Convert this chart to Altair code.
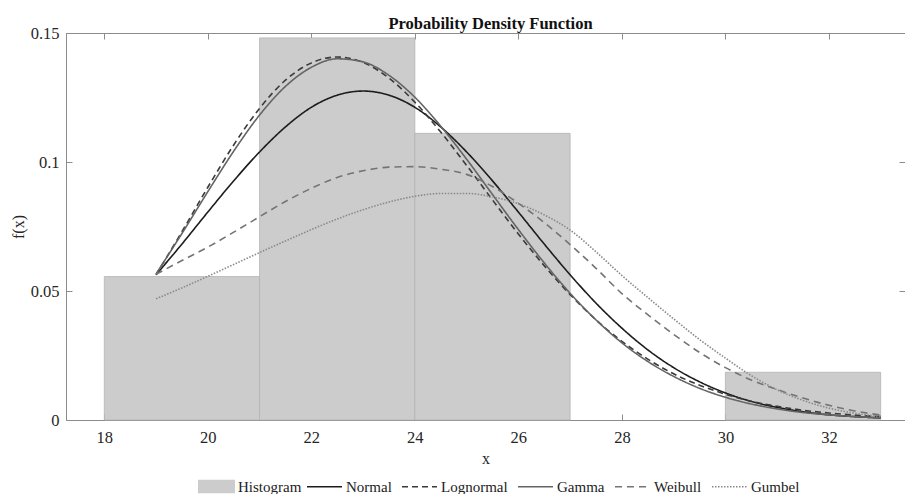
import altair as alt
import pandas as pd

# Histogram bins (density scale)
bin_start = [18, 21, 24, 27, 30]
bin_end = [21, 24, 27, 30, 33]
density = [0.0556, 0.1481, 0.1111, 0.0, 0.0185]

# Fitted curves
x_grid = [19, 19.5, 20, 20.5, 21, 21.5, 22, 22.5, 23, 23.5, 24, 24.5, 25, 25.5,
          26, 26.5, 27, 27.5, 28, 28.5, 29, 29.5, 30, 30.5, 31, 31.5, 32, 32.5, 33]
normal = [0.0563, 0.0682, 0.0806, 0.0927, 0.1039, 0.1136, 0.1212, 0.1259, 0.1275,
          0.1259, 0.1212, 0.1136, 0.1039, 0.0927, 0.0806, 0.0682, 0.0563, 0.0453,
          0.0356, 0.0272, 0.0203, 0.0148, 0.0105, 0.0072, 0.0049, 0.0032, 0.0020,
          0.0013, 0.0008]
lognormal = [0.0563, 0.0730, 0.0902, 0.1066, 0.1208, 0.1317, 0.1384, 0.1407, 0.1386,
             0.1325, 0.1232, 0.1116, 0.0987, 0.0853, 0.0721, 0.0598, 0.0486, 0.0388,
             0.0305, 0.0236, 0.0179, 0.0135, 0.0100, 0.0073, 0.0053, 0.0038, 0.0027,
             0.0019, 0.0013]
gamma = [0.0566, 0.0723, 0.0885, 0.1042, 0.1182, 0.1293, 0.1367, 0.1400, 0.1388,
         0.1336, 0.1251, 0.1139, 0.1011, 0.0874, 0.0738, 0.0609, 0.0491, 0.0388,
         0.0299, 0.0227, 0.0169, 0.0123, 0.0088, 0.0062, 0.0043, 0.0029, 0.0020,
         0.0013, 0.0008]
weibull = [0.0565, 0.0618, 0.0670, 0.0728, 0.0788, 0.0847, 0.0898, 0.0940, 0.0966,
           0.0980, 0.0982, 0.0972, 0.0952, 0.0905, 0.0840, 0.0765, 0.0680, 0.0588,
           0.0490, 0.0408, 0.0332, 0.0262, 0.0203, 0.0155, 0.0118, 0.0085, 0.0057,
           0.0035, 0.0019]
gumbel = [0.0470, 0.0512, 0.0557, 0.0603, 0.0649, 0.0694, 0.0738, 0.0779, 0.0815,
          0.0845, 0.0867, 0.0878, 0.0878, 0.0865, 0.0838, 0.0795, 0.0736, 0.0652,
          0.0560, 0.0475, 0.0392, 0.0312, 0.0240, 0.0172, 0.0117, 0.0076, 0.0046,
          0.0026, 0.0014]

curve_names = ["Normal", "Lognormal", "Gamma", "Weibull", "Gumbel"]
curve_colors = ["#1c1c1c", "#3a3a3a", "#646464", "#747474", "#8a8a8a"]
curve_dashes = [[1, 0], [6, 4], [1, 0], [7, 5], [1.5, 1.5]]
curve_widths = [1.6, 1.6, 1.6, 1.5, 1.2]
hist_color = "#cccccc"

x_ticks = [18, 20, 22, 24, 26, 28, 30, 32]
y_ticks = [0, 0.05, 0.1, 0.15]

hist_df = pd.DataFrame({"x0": bin_start, "x1": bin_end, "d": density,
                        "series": "Histogram"})
hist_df = hist_df[hist_df["d"] > 0]

curves = dict(zip(curve_names, [normal, lognormal, gamma, weibull, gumbel]))
rows = []
for name, vals in curves.items():
    for xv, yv in zip(x_grid, vals):
        rows.append({"x": xv, "y": yv, "series": name})
curve_df = pd.DataFrame(rows)

FONT = "Liberation Serif"
xscale = alt.Scale(domain=[17.26, 33.47], nice=False, zero=False)
yscale = alt.Scale(domain=[0, 0.15], nice=False, zero=False)

LEG_TOP = 435  # legend row top, relative to plot top

hist_legend = alt.Legend(
    title=None, orient="none", direction="horizontal",
    legendX=132, legendY=LEG_TOP, padding=0,
    labelFont=FONT, labelFontSize=15, labelColor="#222222", labelOffset=3,
    symbolType="M-1,-0.36H1V0.36H-1Z", symbolSize=1369,
    symbolStrokeWidth=0, symbolOpacity=1,
)
line_legend = alt.Legend(
    title=None, orient="none", direction="horizontal",
    legendX=240, legendY=LEG_TOP, padding=0,
    labelFont=FONT, labelFontSize=15, labelColor="#222222", labelOffset=3,
    columnPadding=6, symbolType="stroke", symbolSize=1225,
    symbolStrokeWidth=1.5, symbolOpacity=1,
)

bars = alt.Chart(hist_df).mark_rect(stroke="#b4b4b4", strokeWidth=0.8).encode(
    x=alt.X("x0:Q", scale=xscale,
            axis=alt.Axis(orient="bottom", values=x_ticks, title="x", offset=-6,
                          tickSize=6, domain=False, grid=False, labelPadding=9,
                          titlePadding=5)),
    x2="x1",
    y=alt.Y("d:Q", scale=yscale,
            axis=alt.Axis(orient="left", values=y_ticks, title="f(x)", offset=-6,
                          tickSize=6, domain=False, grid=False, labelPadding=7,
                          titlePadding=4, format=".2~f")),
    y2=alt.datum(0),
    fill=alt.Fill("series:N", scale=alt.Scale(domain=["Histogram"], range=[hist_color]),
                  legend=hist_legend),
)

lines = alt.Chart(curve_df).mark_line(interpolate="monotone").encode(
    x=alt.X("x:Q", scale=xscale,
            axis=alt.Axis(orient="top", values=x_ticks, title=None, labels=False,
                          offset=-6, tickSize=6, domain=False, grid=False)),
    y=alt.Y("y:Q", scale=yscale,
            axis=alt.Axis(orient="right", values=y_ticks, title=None, labels=False,
                          offset=-6, tickSize=6, domain=False, grid=False)),
    stroke=alt.Stroke("series:N", scale=alt.Scale(domain=curve_names, range=curve_colors),
                      legend=line_legend),
    strokeDash=alt.StrokeDash("series:N", scale=alt.Scale(domain=curve_names, range=curve_dashes),
                              legend=line_legend),
    strokeWidth=alt.StrokeWidth("series:N", scale=alt.Scale(domain=curve_names, range=curve_widths),
                                legend=None),
)

chart = alt.layer(bars, lines).resolve_axis(x="independent", y="independent").properties(
    width=839, height=387,
    title=alt.TitleParams("Probability Density Function", font=FONT, fontSize=16.5,
                          fontWeight="bold", anchor="middle", offset=-7, dx=5,
                          color="#111111"),
    autosize=alt.AutoSizeParams(type="none"),
    padding={"left": 58, "top": 25, "right": 0, "bottom": 74},
).configure_view(stroke="#8c8c8c", strokeWidth=1).configure_axis(
    labelFont=FONT, labelFontSize=16.5, labelColor="#262626",
    titleFont=FONT, titleFontSize=16, titleFontWeight="normal", titleColor="#262626",
    tickColor="#8c8c8c", tickWidth=1,
)

chart.save("out.html", embed_options={"renderer": "svg", "actions": False})
